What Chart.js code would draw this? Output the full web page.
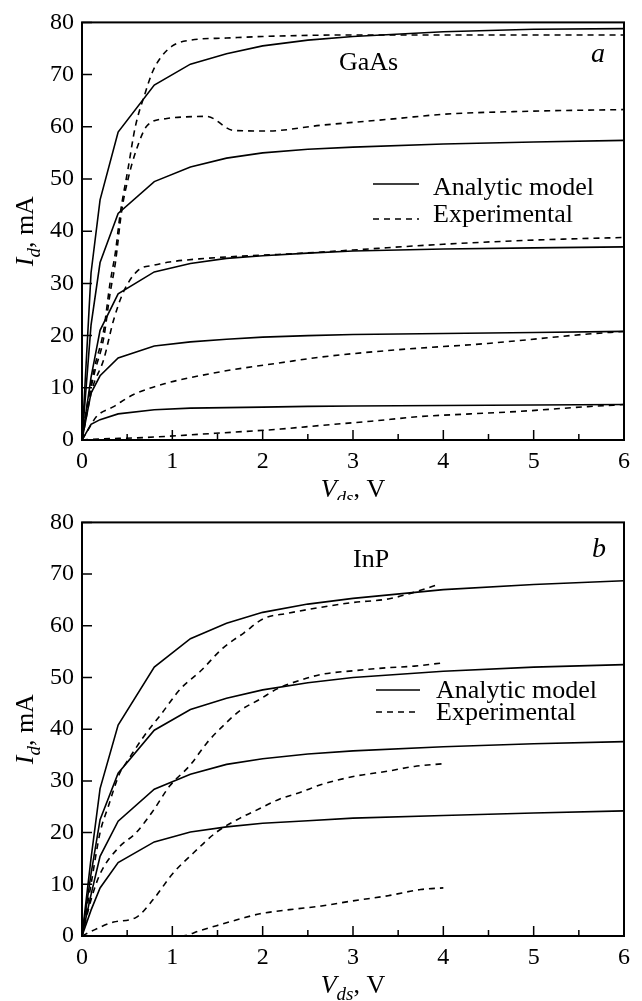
<!DOCTYPE html>
<html>
<head>
<meta charset="utf-8">
<script src="https://cdn.jsdelivr.net/npm/chart.js@4.4.0/dist/chart.umd.min.js"></script>
<style>
  html, body { margin: 0; padding: 0; background: #fff; }
  body { width: 642px; height: 1001px; position: relative; overflow: hidden; }
  canvas { position: absolute; left: 0; }
  #graficoGaAs { top: 0; }
  #graficoInP { top: 500px; }
</style>
</head>
<body>
<canvas id="graficoGaAs" width="642" height="500"></canvas>
<canvas id="graficoInP" width="642" height="501"></canvas>
<script>
// Eixos
const ticksVds = [0, 1, 2, 3, 4, 5, 6];
const ticksVdsMenores = [0.5, 1.5, 2.5, 3.5, 4.5, 5.5];
const ticksId = [0, 10, 20, 30, 40, 50, 60, 70, 80];

// Modelo analítico: mesmos pontos de Vds (V) para todas as curvas
const vModelo = [0, 0.1, 0.2, 0.4, 0.8, 1.2, 1.6, 2, 2.5, 3, 4, 5, 6];

// (a) GaAs - modelo analítico, Id (mA)
const gaasModelo1 = [0, 32, 46, 59, 68, 72, 74, 75.5, 76.6, 77.3, 78.2, 78.7, 78.8];
const gaasModelo2 = [0, 22, 34, 43.4, 49.5, 52.3, 54, 55, 55.7, 56.1, 56.7, 57.1, 57.4];
const gaasModelo3 = [0, 12, 21, 28, 32.2, 33.8, 34.8, 35.3, 35.8, 36.2, 36.6, 36.8, 37];
const gaasModelo4 = [0, 9, 12.3, 15.7, 18, 18.8, 19.3, 19.7, 20, 20.2, 20.4, 20.6, 20.8];
const gaasModelo5 = [0, 3, 3.9, 5, 5.8, 6.1, 6.2, 6.3, 6.45, 6.5, 6.6, 6.7, 6.8];

// (a) GaAs - experimental
const gaasExpV1 = [0, 0.07, 0.14, 0.24, 0.31, 0.37, 0.42, 0.51, 0.59, 0.7, 0.78, 0.86, 1.0, 1.2, 1.6, 2.0, 3, 4, 5, 6];
const gaasExpI1 = [0, 8, 14, 21, 30, 36, 43, 52, 60, 66.5, 70.5, 73, 75.5, 76.6, 77, 77.3, 77.6, 77.6, 77.6, 77.6];
const gaasExpV2 = [0, 0.07, 0.14, 0.24, 0.31, 0.37, 0.44, 0.51, 0.6, 0.72, 0.94, 1.15, 1.38, 1.68, 2.05, 2.65, 3.5, 4, 5, 6];
const gaasExpI2 = [0, 7.5, 13, 19.5, 28, 34, 44, 50, 55.5, 60.2, 61.6, 61.9, 62, 59.3, 59.2, 60.3, 61.6, 62.4, 63, 63.3];
const gaasExpV3 = [0, 0.11, 0.24, 0.35, 0.46, 0.62, 0.8, 0.97, 1.3, 1.64, 2, 2.65, 3, 4, 5, 6];
const gaasExpI3 = [0, 9.6, 15.4, 23, 28.4, 32.5, 33.5, 34.1, 34.7, 35.1, 35.4, 36, 36.4, 37.5, 38.3, 38.8];
const gaasExpV4 = [0, 0.09, 0.16, 0.35, 0.57, 0.94, 1.3, 1.68, 2.2, 2.65, 3.5, 4.49, 5.6, 6];
const gaasExpI4 = [0, 2.6, 4.5, 6.4, 8.7, 10.9, 12.3, 13.5, 14.8, 15.9, 17.3, 18.5, 20.3, 20.8];
const gaasExpV5 = [0, 0.2, 0.6, 0.94, 1.3, 1.68, 2.2, 2.65, 3.2, 3.75, 4.3, 4.86, 5.6, 6];
const gaasExpI5 = [0, 0.2, 0.4, 0.7, 1.1, 1.5, 2.1, 2.8, 3.6, 4.5, 5, 5.5, 6.4, 6.8];

// (b) InP - modelo analítico, Id (mA)
const inpModelo1 = [0, 15, 28.5, 40.8, 52, 57.5, 60.5, 62.6, 64.2, 65.3, 67, 68, 68.7];
const inpModelo2 = [0, 12, 22.5, 31.5, 39.8, 43.8, 46, 47.6, 49, 50, 51.2, 52, 52.5];
const inpModelo3 = [0, 8, 15.4, 22.2, 28.4, 31.3, 33.2, 34.3, 35.2, 35.8, 36.6, 37.2, 37.6];
const inpModelo4 = [0, 5, 9.3, 14.2, 18.2, 20.1, 21.1, 21.8, 22.3, 22.8, 23.3, 23.8, 24.2];

// (b) InP - experimental
const inpExpV1 = [0, 0.1, 0.2, 0.29, 0.42, 0.49, 0.68, 0.88, 1.09, 1.31, 1.56, 1.79, 2.01, 2.27, 2.65, 3.0, 3.39, 3.68, 3.96];
const inpExpI1 = [0, 10, 20, 25, 31.6, 33.5, 38.5, 43, 47.8, 51.2, 55.7, 58.6, 61.4, 62.4, 63.6, 64.5, 65.2, 66.5, 68.1];
const inpExpV2 = [0, 0.1, 0.2, 0.4, 0.6, 0.79, 0.97, 1.2, 1.38, 1.57, 1.75, 1.97, 2.16, 2.42, 2.65, 3.0, 3.39, 3.68, 3.98];
const inpExpI2 = [0, 7, 12, 17, 20, 24.3, 29, 33.1, 37.3, 40.8, 43.6, 45.8, 47.8, 49.5, 50.6, 51.3, 51.9, 52.2, 52.8];
const inpExpV3 = [0, 0.09, 0.35, 0.6, 0.79, 1.01, 1.23, 1.49, 1.75, 1.88, 2.19, 2.42, 2.65, 3.02, 3.39, 3.68, 3.98];
const inpExpI3 = [0, 0.8, 2.7, 3.6, 7.1, 12.2, 16, 20.1, 22.8, 23.9, 26.5, 27.8, 29.3, 30.9, 31.9, 32.8, 33.3];
const inpExpV4 = [0, 0.5, 1.1, 1.3, 1.49, 1.75, 1.97, 2.3, 2.65, 3.0, 3.39, 3.75, 4.0];
const inpExpI4 = [0, 0, 0, 1, 2, 3.3, 4.3, 5.1, 5.8, 6.8, 7.8, 9, 9.3];

const fonteSerif = '"Liberation Serif", "Times New Roman", serif';

// Monta um dataset a partir de dois arrays
function serie(vs, is, tracejado) {
  return {
    data: vs.map((v, k) => ({ x: v, y: is[k] })),
    borderColor: '#000',
    borderWidth: 1.6,
    borderDash: tracejado ? [6, 5] : [],
    pointRadius: 0,
    fill: false,
    tension: 0,
    cubicInterpolationMode: tracejado ? 'monotone' : 'default'
  };
}

// Texto com partes em itálico / subscrito
function desenharPartes(ctx, partes, x, y, tamanho, centrar) {
  const fonte = p => (p.italico ? 'italic ' : '') + (p.sub ? Math.round(tamanho * 0.72) : tamanho) + 'px ' + fonteSerif;
  let largura = 0;
  const larguras = partes.map(p => {
    ctx.font = fonte(p);
    const w = ctx.measureText(p.t).width;
    largura += w;
    return w;
  });
  let cx = centrar ? x - largura / 2 : x;
  ctx.textBaseline = 'alphabetic';
  ctx.textAlign = 'left';
  partes.forEach((p, k) => {
    ctx.font = fonte(p);
    ctx.fillText(p.t, cx, y + (p.sub ? tamanho * 0.28 : 0));
    cx += larguras[k];
  });
}

// Moldura, ticks para dentro, títulos, legenda e rótulos
const pluginMoldura = {
  id: 'moldura',
  afterDraw(chart, args, opts) {
    const ctx = chart.ctx;
    const a = chart.chartArea;
    const sx = chart.scales.x, sy = chart.scales.y;
    const dy = opts.topo; // deslocamento do canvas na página
    ctx.save();
    ctx.strokeStyle = '#000';
    ctx.fillStyle = '#000';
    ctx.setLineDash([]);

    ctx.lineWidth = 1.5;
    ctx.beginPath();
    ticksVds.forEach(v => {
      const px = sx.getPixelForValue(v);
      ctx.moveTo(px, a.bottom); ctx.lineTo(px, a.bottom - 10);
    });
    ticksVdsMenores.forEach(v => {
      const px = sx.getPixelForValue(v);
      ctx.moveTo(px, a.bottom); ctx.lineTo(px, a.bottom - 6);
    });
    ticksId.forEach(i => {
      const py = sy.getPixelForValue(i);
      ctx.moveTo(a.left, py); ctx.lineTo(a.left + 10, py);
    });
    ctx.stroke();

    ctx.lineWidth = 2;
    ctx.strokeRect(a.left, a.top, a.right - a.left, a.bottom - a.top);

    // Títulos dos eixos
    desenharPartes(ctx, [{ t: 'V', italico: true }, { t: 'ds', italico: true, sub: true }, { t: ', V' }],
      (a.left + a.right) / 2, a.bottom + 57, 26, true);
    ctx.save();
    ctx.translate(33, (a.top + a.bottom) / 2);
    ctx.rotate(-Math.PI / 2);
    desenharPartes(ctx, [{ t: 'I', italico: true }, { t: 'd', italico: true, sub: true }, { t: ', mA' }], 0, 0, 26, true);
    ctx.restore();

    // Rótulos do painel
    desenharPartes(ctx, [{ t: opts.material }], opts.materialX, opts.materialY - dy, 26, false);
    desenharPartes(ctx, [{ t: opts.letra, italico: true }], opts.letraX, opts.letraY - dy, 28, false);

    // Legenda
    const lg = opts.legenda;
    ctx.lineWidth = 1.6;
    ctx.beginPath();
    ctx.moveTo(lg.x0, lg.linha1 - dy); ctx.lineTo(lg.x1, lg.linha1 - dy);
    ctx.stroke();
    ctx.setLineDash([6, 5]);
    ctx.beginPath();
    ctx.moveTo(lg.x0, lg.linha2 - dy); ctx.lineTo(lg.x1, lg.linha2 - dy);
    ctx.stroke();
    ctx.setLineDash([]);
    desenharPartes(ctx, [{ t: 'Analytic model' }], lg.texto, lg.base1 - dy, 26, false);
    desenharPartes(ctx, [{ t: 'Experimental' }], lg.texto, lg.base2 - dy, 26, false);
    ctx.restore();
  }
};

function criarGrafico(id, datasets, alturaEixoX, paddingTopo, extras) {
  const ctx = document.getElementById(id).getContext('2d');
  return new Chart(ctx, {
    type: 'line',
    data: { datasets: datasets },
    plugins: [pluginMoldura],
    options: {
      responsive: false,
      animation: false,
      devicePixelRatio: 1,
      layout: { padding: { top: paddingTopo, right: 18, left: 0, bottom: 0 } },
      plugins: {
        legend: { display: false },
        tooltip: { enabled: false },
        moldura: extras
      },
      scales: {
        x: {
          type: 'linear', min: 0, max: 6,
          afterBuildTicks: s => { s.ticks = ticksVds.map(v => ({ value: v })); },
          afterFit: s => { s.height = alturaEixoX; },
          ticks: { color: '#000', padding: 7, maxRotation: 0, font: { family: fonteSerif, size: 24 } },
          grid: { display: false, drawTicks: false },
          border: { display: false }
        },
        y: {
          type: 'linear', min: 0, max: 80,
          afterBuildTicks: s => { s.ticks = ticksId.map(v => ({ value: v })); },
          afterFit: s => { s.width = 82; },
          ticks: { color: '#000', padding: 8, font: { family: fonteSerif, size: 24 } },
          grid: { display: false, drawTicks: false },
          border: { display: false }
        }
      }
    }
  });
}

window.addEventListener('DOMContentLoaded', () => {
  criarGrafico('graficoGaAs', [
    serie(vModelo, gaasModelo1, false),
    serie(vModelo, gaasModelo2, false),
    serie(vModelo, gaasModelo3, false),
    serie(vModelo, gaasModelo4, false),
    serie(vModelo, gaasModelo5, false),
    serie(gaasExpV1, gaasExpI1, true),
    serie(gaasExpV2, gaasExpI2, true),
    serie(gaasExpV3, gaasExpI3, true),
    serie(gaasExpV4, gaasExpI4, true),
    serie(gaasExpV5, gaasExpI5, true)
  ], 60, 21, {
    topo: 0,
    material: 'GaAs', materialX: 339, materialY: 70,
    letra: 'a', letraX: 591, letraY: 62,
    legenda: { x0: 373, x1: 419, texto: 433, linha1: 184, linha2: 219, base1: 195, base2: 222 }
  });

  criarGrafico('graficoInP', [
    serie(vModelo, inpModelo1, false),
    serie(vModelo, inpModelo2, false),
    serie(vModelo, inpModelo3, false),
    serie(vModelo, inpModelo4, false),
    serie(inpExpV1, inpExpI1, true),
    serie(inpExpV2, inpExpI2, true),
    serie(inpExpV3, inpExpI3, true),
    serie(inpExpV4, inpExpI4, true)
  ], 65, 16, {
    topo: 500,
    material: 'InP', materialX: 353, materialY: 567,
    letra: 'b', letraX: 592, letraY: 557,
    legenda: { x0: 376, x1: 420, texto: 436, linha1: 690, linha2: 712, base1: 698, base2: 720 }
  });
});
</script>
</body>
</html>
